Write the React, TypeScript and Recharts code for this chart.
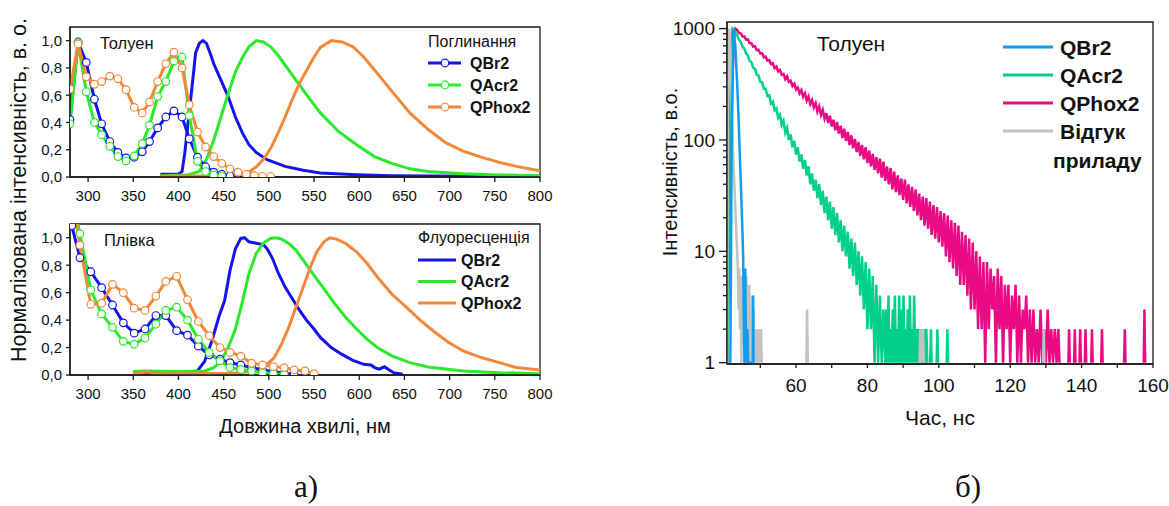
import React from 'react';
import { LineChart, Line, XAxis, YAxis, ReferenceArea } from 'recharts';

const FONT = "'Liberation Sans', Arial, Helvetica, sans-serif";
const BLUE = '#1414ee';
const GREEN = '#2aeb2a';
const ORANGE = '#f2883a';
const SKY = '#129cf0';
const TEAL = '#00d08a';
const PINK = '#ea0a84';
const GREY = '#c2c2c2';
const AXIS = '#1a1a1a';

// --- спектри, розчин у толуені ---
const absTolQBr2 = [[280, 0.42], [289, 0.99], [298, 0.84], [307, 0.57], [315, 0.39], [324, 0.26], [333, 0.18], [342, 0.14], [351, 0.145], [360, 0.185], [368, 0.26], [377, 0.36], [386, 0.44], [395, 0.485], [404, 0.44], [412, 0.28], [421, 0.145], [430, 0.075], [439, 0.035], [448, 0.02], [457, 0.008]];
const absTolQAcr2 = [[280, 0.39], [289, 0.985], [298, 0.625], [307, 0.4], [315, 0.31], [324, 0.225], [333, 0.15], [342, 0.118], [351, 0.155], [360, 0.245], [368, 0.38], [377, 0.59], [386, 0.7], [395, 0.85], [404, 0.88], [412, 0.45], [421, 0.115], [430, 0.04], [439, 0.015], [448, 0.005]];
const absTolQPhox2 = [[280, 0.645], [289, 0.975], [298, 0.735], [307, 0.68], [315, 0.7], [324, 0.74], [333, 0.72], [342, 0.64], [351, 0.51], [360, 0.47], [368, 0.55], [377, 0.7], [386, 0.83], [395, 0.915], [404, 0.8], [412, 0.53], [421, 0.33], [430, 0.22], [439, 0.15], [448, 0.1], [457, 0.06], [466, 0.035], [475, 0.02], [484, 0.01], [493, 0.005], [502, 0.005]];
const flTolQBr2 = [[380, 0.02], [400, 0.02], [404, 0.04], [407, 0.175], [411, 0.42], [415, 0.66], [419, 0.91], [423, 0.98], [427, 1.0], [431, 0.98], [435, 0.91], [439, 0.83], [447, 0.71], [455, 0.59], [463, 0.44], [471, 0.32], [478, 0.237], [486, 0.18], [498, 0.127], [518, 0.078], [538, 0.049], [557, 0.03], [597, 0.017], [636, 0.01], [676, 0.007], [800, 0.005]];
const flTolQAcr2 = [[380, 0.01], [410, 0.015], [423, 0.04], [431, 0.13], [439, 0.27], [447, 0.44], [455, 0.61], [463, 0.77], [471, 0.88], [478, 0.955], [486, 1.0], [494, 0.99], [502, 0.955], [510, 0.895], [518, 0.82], [530, 0.71], [542, 0.6], [557, 0.47], [577, 0.334], [597, 0.237], [617, 0.15], [636, 0.1], [656, 0.06], [676, 0.04], [715, 0.024], [755, 0.015], [800, 0.01]];
const flTolQPhox2 = [[380, 0.005], [460, 0.01], [470, 0.02], [479, 0.04], [487, 0.08], [494, 0.13], [502, 0.21], [510, 0.32], [518, 0.44], [526, 0.57], [534, 0.69], [542, 0.785], [550, 0.88], [557, 0.95], [569, 1.0], [581, 0.99], [593, 0.955], [605, 0.88], [620, 0.76], [636, 0.63], [656, 0.47], [676, 0.35], [696, 0.25], [715, 0.19], [735, 0.146], [755, 0.107], [774, 0.078], [800, 0.046]];

// --- спектри, плівка ---
const absFilmQBr2 = [[280, 1.12], [282, 1.087], [291, 0.854], [303, 0.752], [315, 0.636], [327, 0.51], [339, 0.38], [351, 0.305], [363, 0.335], [375, 0.433], [386, 0.433], [398, 0.323], [410, 0.29], [422, 0.21], [434, 0.147], [446, 0.115], [457, 0.09], [469, 0.073], [481, 0.054], [493, 0.037], [505, 0.024], [517, 0.012], [528, 0.005]];
const absFilmQAcr2 = [[287, 1.15], [291, 1.03], [303, 0.62], [315, 0.445], [327, 0.347], [339, 0.245], [351, 0.225], [363, 0.269], [375, 0.37], [386, 0.47], [398, 0.494], [410, 0.4], [422, 0.26], [434, 0.164], [446, 0.103], [457, 0.054], [469, 0.04], [481, 0.03], [493, 0.017], [505, 0.01], [517, 0.005]];
const absFilmQPhox2 = [[285, 1.2], [291, 0.946], [303, 0.515], [315, 0.523], [327, 0.66], [339, 0.6], [351, 0.487], [363, 0.47], [375, 0.575], [386, 0.682], [398, 0.719], [410, 0.548], [422, 0.39], [434, 0.286], [446, 0.2], [457, 0.164], [469, 0.137], [481, 0.086], [493, 0.073], [505, 0.061], [517, 0.054], [528, 0.037], [540, 0.03], [550, 0.01]];
const flFilmQBr2 = [[350, 0.02], [380, 0.02], [410, 0.02], [421, 0.03], [429, 0.1], [437, 0.25], [445, 0.43], [451, 0.54], [457, 0.76], [463, 0.92], [469, 0.995], [473, 1.0], [478, 0.97], [486, 0.96], [494, 0.95], [498, 0.92], [504, 0.85], [510, 0.75], [518, 0.64], [526, 0.555], [534, 0.47], [542, 0.396], [550, 0.335], [557, 0.274], [569, 0.2], [581, 0.15], [593, 0.107], [605, 0.078], [613, 0.073], [617, 0.054], [622, 0.042], [628, 0.06], [632, 0.042], [638, 0.017], [648, 0.005]];
const flFilmQAcr2 = [[350, 0.025], [365, 0.03], [400, 0.025], [429, 0.03], [439, 0.054], [447, 0.1], [455, 0.2], [463, 0.335], [471, 0.54], [478, 0.74], [486, 0.885], [494, 0.963], [502, 0.995], [508, 1.0], [514, 0.99], [522, 0.958], [530, 0.91], [538, 0.836], [550, 0.726], [561, 0.628], [573, 0.518], [585, 0.42], [597, 0.335], [609, 0.26], [620, 0.2], [636, 0.14], [656, 0.09], [676, 0.059], [715, 0.03], [755, 0.017], [800, 0.01]];
const flFilmQPhox2 = [[350, 0.01], [360, 0.015], [366, 0.025], [372, 0.01], [400, 0.01], [460, 0.012], [479, 0.025], [494, 0.054], [506, 0.127], [514, 0.225], [522, 0.347], [530, 0.494], [538, 0.64], [546, 0.787], [553, 0.897], [561, 0.97], [567, 1.0], [575, 0.99], [585, 0.958], [597, 0.897], [609, 0.81], [620, 0.714], [636, 0.59], [652, 0.494], [668, 0.396], [684, 0.31], [699, 0.237], [715, 0.176], [735, 0.127], [755, 0.09], [774, 0.054], [800, 0.037]];

// --- кінетика загасання (толуен), null = 0 відліків ---
const decayQBr2 = [[41.6, 1], [42.0, 100], [42.5, 1000], [43.0, 700], [43.5, 330], [43.9, 160], [44.4, 55], [44.9, 19], [45.2, 9], [45.4, 2], [45.6, 1], [45.8, 7], [46.0, 1], [46.4, 2], [46.6, 1], [47.9, 1], [48.0, 4], [48.1, 1], [48.3, null]];
const decayQAcr2 = [[40.8, 1], [41.3, 60], [41.8, 500], [42.2, 1000], [42.5, 985], [43, 925], [43.5, 875], [44, 800], [44.5, 760], [45, 690], [45.5, 665], [46, 598], [46.5, 575], [47, 515], [47.5, 500], [48, 445], [48.5, 435], [49, 385], [49.5, 380], [50, 332], [50.5, 330], [51, 288], [51.5, 288], [52, 248], [52.5, 252], [53, 212], [53.5, 220], [54, 185], [54.5, 192], [55, 158], [55.5, 168], [56, 136], [56.5, 148], [57, 116], [57.5, 128], [58, 100], [58.5, 112], [59, 86], [59.5, 98], [60, 74], [60.5, 86], [61, 64], [61.5, 74], [62, 55], [62.5, 66], [63, 48], [63.5, 58], [64, 40], [64.5, 50], [65, 35], [65.5, 44], [66, 30], [66.5, 40], [67, 26], [67.5, 35], [68, 22], [68.5, 31], [69, 19], [69.5, 28], [70, 16], [70.5, 25], [71, 14], [71.5, 22], [72, 12], [72.5, 19], [73, 10], [73.5, 17], [74, 9], [74.5, 15], [75, 7], [75.5, 13], [76, 6], [76.5, 12], [77, 5], [77.5, 10], [78, 4], [78.5, 9], [79, 3], [79.5, 8], [80, 2], [80.5, 7], [81, 2], [81.5, 6], [82, 1], [82.5, 5], [83, 1], [83.5, 4], [84, 1], [84.5, 3], [85, 1], [85.3, 3], [85.6, 1], [85.9, 4], [86.2, 1], [86.5, 2], [86.8, 1], [87.1, 3], [87.4, 1], [87.7, 4], [88, 1], [88.3, 2], [88.6, 1], [88.9, 4], [89.2, 1], [89.5, 3], [89.8, 1], [90.1, 4], [90.4, 1], [90.7, 2], [91, 1], [91.3, 3], [91.6, 1], [91.9, 4], [92.2, 1], [92.5, 2], [92.8, 1], [93.1, 4], [93.4, 1], [93.7, 2], [94, 1], [94.3, 2], [94.6, 1], [95, 2], [95.3, 1], [95.8, 2], [96.1, 1], [96.5, 2], [96.8, 1], [97.1, null], [97.6, 1], [97.8, 2], [98, 1], [98.2, null], [99.4, 1], [99.6, 2], [99.8, 1], [100, null], [102.2, 1], [102.4, 2], [102.6, 1], [102.8, null]];
const decayQPhox2 = [[40.8, 1], [41.4, 20], [42.0, 250], [42.6, 800], [43, 1000], [43.5, 975], [44, 915], [44.5, 905], [45, 850], [45.5, 852], [46, 795], [46.5, 800], [47, 742], [47.5, 738], [48, 690], [48.5, 694], [49, 640], [49.5, 645], [50, 598], [50.5, 600], [51, 552], [51.5, 560], [52, 515], [52.5, 522], [53, 480], [53.5, 488], [54, 442], [54.5, 456], [55, 412], [55.5, 424], [56, 385], [56.5, 392], [57, 352], [57.5, 372], [58, 332], [58.5, 340], [59, 305], [59.5, 320], [60, 284], [60.5, 296], [61, 262], [61.5, 280], [62, 244], [62.5, 262], [63, 226], [63.5, 246], [64, 210], [64.5, 228], [65, 196], [65.5, 214], [66, 180], [66.5, 200], [67, 168], [67.5, 186], [68, 155], [68.5, 174], [69, 142], [69.5, 165], [70, 132], [70.5, 152], [71, 122], [71.5, 145], [72, 114], [72.5, 134], [73, 104], [73.5, 126], [74, 98], [74.5, 118], [75, 90], [75.5, 110], [76, 84], [76.5, 102], [77, 78], [77.5, 96], [78, 72], [78.5, 90], [79, 67], [79.5, 86], [80, 62], [80.5, 80], [81, 58], [81.5, 75], [82, 54], [82.5, 70], [83, 50], [83.5, 68], [84, 46], [84.5, 64], [85, 43], [85.5, 58], [86, 40], [86.5, 56], [87, 36], [87.5, 52], [88, 34], [88.5, 48], [89, 32], [89.5, 45], [90, 29], [90.5, 44], [91, 27], [91.5, 40], [92, 25], [92.5, 38], [93, 23], [93.5, 36], [94, 21], [94.5, 33], [95, 19], [95.5, 31], [96, 17], [96.5, 30], [97, 16], [97.5, 28], [98, 14], [98.5, 26], [99, 13], [99.5, 25], [100, 12], [100.5, 23], [101, 11], [101.5, 22], [102, 9], [102.5, 21], [103, 8], [103.5, 19], [104, 7], [104.5, 18], [105, 6], [105.5, 17], [106, 5], [106.5, 15], [107, 5], [107.5, 14], [108, 4], [108.5, 13], [109, 3], [109.5, 12], [110, 3], [110.5, 10], [111, 2], [111.5, 9], [112, 2], [112.5, 8], [113, 1], [113.5, 8], [114, 2], [114.5, 7], [115, 3], [115.5, 6], [116, 1], [116.5, 7], [117, 2], [117.5, 6], [118, 1], [118.5, 5], [119, 2], [119.5, 5], [120, 1], [120.5, 4], [121, 2], [121.5, 5], [122, 1], [122.5, 4], [123, 1], [123.5, 3], [124, 2], [124.5, 4], [125, 1], [125.5, 3], [126, 1], [126.5, 3], [127, 1], [127.5, 2], [128, 1], [128.5, 3], [129, 1], [129.5, 2], [130, 1], [130.5, 3], [131, 1], [131.5, 2], [132, 1], [132.5, 2], [133, 1], [133.5, 2], [133.8, 1], [134, null], [136.3, 1], [136.5, 2], [136.7, 1], [136.9, null], [137.9, 1], [138.1, 2], [138.3, 1], [138.5, null], [139.4, 1], [139.6, 2], [139.8, 1], [140, null], [140.9, 1], [141.1, 2], [141.3, 1], [141.5, null], [142.7, 1], [142.9, 2], [143.1, 1], [143.3, null], [145.5, 1], [145.7, 2], [145.9, 1], [146.1, null], [151.9, 1], [152.1, 2], [152.3, 1], [152.5, null], [157.4, 1], [157.6, 3], [157.8, 1], [158, null]];
const decayIRF = [[40.7, 1], [40.9, 200], [41.3, 1000], [41.7, 600], [42.1, 150], [42.5, 60], [43.0, 25], [43.4, 12], [43.7, 7], [43.9, 3], [44.1, 7], [44.3, 2], [44.5, 6], [44.7, 1], [44.9, 6], [45.1, 2], [45.3, 7], [45.5, 1], [45.7, 5], [45.9, 2], [46.1, 6], [46.3, 1], [46.5, 4], [46.7, 2], [46.9, 5], [47.1, 1], [47.3, 3], [47.5, 1], [47.7, 4], [47.9, 1], [48.1, 3], [48.3, 1], [48.5, 2], [48.7, 1], [48.9, 2], [49.1, 1], [49.5, 2], [49.7, 1], [50.2, 2], [50.4, 1], [50.6, null], [62.9, 1], [63.1, 3], [63.3, 1], [63.5, null], [94.6, 1], [94.8, 2], [95.0, 1], [95.6, 2], [95.8, 1], [96, null], [129.2, 1], [129.4, 2], [129.6, 1], [129.8, null]];

const WL_TICKS = [300, 350, 400, 450, 500, 550, 600, 650, 700, 750, 800];
const NORM_TICKS = [0, 0.2, 0.4, 0.6, 0.8, 1.0];
const TIME_TICKS = [50, 60, 70, 80, 90, 100, 110, 120, 130, 140, 150, 160];
const COUNT_TICKS = [1, 2, 3, 4, 5, 6, 7, 8, 9, 10, 20, 30, 40, 50, 60, 70, 80, 90, 100, 200, 300, 400, 500, 600, 700, 800, 900, 1000];
const COUNT_MAJOR = [1, 10, 100, 1000];

const pts = (a: (number | null)[][]) => a.map(([x, y]) => ({ x, y }));

const commaFmt = (v: number) => v.toFixed(1).replace('.', ',');

function CountTick(props: any) {
  const { x, y, payload } = props;
  const major = COUNT_MAJOR.includes(payload.value);
  return (
    <g>
      <line x1={x - (major ? 8 : 4)} x2={x} y1={y} y2={y} stroke={AXIS} strokeWidth={1.3} />
      {major && (
        <text x={x - 12} y={y} dy="0.35em" textAnchor="end" fontSize={19} fontFamily={FONT} fill="#111">
          {payload.value}
        </text>
      )}
    </g>
  );
}

function TimeTick(props: any) {
  const { x, y, payload } = props;
  const major = payload.value % 20 === 0;
  return (
    <g>
      <line x1={x} x2={x} y1={y} y2={y + 4} stroke={AXIS} strokeWidth={1.3} />
      {major && (
        <text x={x} y={y + 15} dy="0.71em" textAnchor="middle" fontSize={19} fontFamily={FONT} fill="#111">
          {payload.value}
        </text>
      )}
    </g>
  );
}

const absDot = (c: string) => ({ r: 3.8, fill: '#fff', stroke: c, strokeWidth: 1.2 });

function SpectraPanel({ abs, fl, height, top, xAxisH }: any) {
  return (
    <LineChart width={560} height={height} margin={{ top, right: 20, left: 0, bottom: 0 }}>
      <XAxis dataKey="x" type="number" domain={[280, 800]} ticks={WL_TICKS} interval={0} allowDataOverflow
        height={xAxisH} tickSize={5} tickMargin={8} stroke={AXIS} strokeWidth={1.3}
        tick={{ fontSize: 15, fill: '#111', fontFamily: FONT }} />
      <YAxis dataKey="y" type="number" domain={[0, 1.1]} ticks={NORM_TICKS} interval={0} allowDataOverflow
        width={70} tickSize={4} tickMargin={4} stroke={AXIS} strokeWidth={1.3} tickFormatter={commaFmt}
        tick={{ fontSize: 15, fill: '#111', fontFamily: FONT }} />
      <ReferenceArea x1={280} x2={800} y1={0} y2={1.1} fill="none" stroke={AXIS} strokeWidth={1.3} ifOverflow="visible" />
      {fl.map((s: any, i: number) => (
        <Line key={'f' + i} data={pts(s.d)} dataKey="y" stroke={s.c} strokeWidth={3} dot={false} isAnimationActive={false} />
      ))}
      {abs.map((s: any, i: number) => (
        <Line key={'a' + i} data={pts(s.d)} dataKey="y" stroke={s.c} strokeWidth={3} dot={absDot(s.c)} isAnimationActive={false} />
      ))}
    </LineChart>
  );
}

export default function App() {
  const txt = { fontFamily: FONT, fill: '#111' };
  return (
    <div style={{ position: 'absolute', left: 0, top: 0, width: 1169, height: 506, background: '#fff', overflow: 'hidden' }}>
      <div style={{ position: 'absolute', left: 0, top: 0 }}>
        <SpectraPanel height={210} top={27} xAxisH={33}
          abs={[{ d: absTolQBr2, c: BLUE }, { d: absTolQAcr2, c: GREEN }, { d: absTolQPhox2, c: ORANGE }]}
          fl={[{ d: flTolQBr2, c: BLUE }, { d: flTolQAcr2, c: GREEN }, { d: flTolQPhox2, c: ORANGE }]} />
      </div>
      <div style={{ position: 'absolute', left: 0, top: 200 }}>
        <SpectraPanel height={215} top={24} xAxisH={40}
          abs={[{ d: absFilmQBr2, c: BLUE }, { d: absFilmQAcr2, c: GREEN }, { d: absFilmQPhox2, c: ORANGE }]}
          fl={[{ d: flFilmQBr2, c: BLUE }, { d: flFilmQAcr2, c: GREEN }, { d: flFilmQPhox2, c: ORANGE }]} />
      </div>
      <div style={{ position: 'absolute', left: 650, top: 0 }}>
        <LineChart width={519} height={400} margin={{ top: 22, right: 16, left: 0, bottom: 0 }}>
          <XAxis dataKey="x" type="number" domain={[40.67, 160]} ticks={TIME_TICKS} interval={0} allowDataOverflow
            height={36} tickSize={0} tickMargin={0} tickLine={false} stroke={AXIS} strokeWidth={1.3} tick={<TimeTick />} />
          <YAxis dataKey="y" type="number" scale="log" domain={[0.973, 1146]} ticks={COUNT_TICKS} interval={0} allowDataOverflow
            width={77} tickSize={0} tickMargin={0} tickLine={false} stroke={AXIS} strokeWidth={1.3} tick={<CountTick />} />
          <ReferenceArea x1={40.67} x2={160} y1={0.973} y2={1146} fill="none" stroke={AXIS} strokeWidth={1.3} ifOverflow="visible" />
          <Line data={pts(decayQPhox2)} dataKey="y" stroke={PINK} strokeWidth={2.5} dot={false} isAnimationActive={false} />
          <Line data={pts(decayQAcr2)} dataKey="y" stroke={TEAL} strokeWidth={2.5} dot={false} isAnimationActive={false} />
          <Line data={pts(decayIRF)} dataKey="y" stroke={GREY} strokeWidth={2.5} dot={false} isAnimationActive={false} />
          <Line data={pts(decayQBr2)} dataKey="y" stroke={SKY} strokeWidth={2.5} dot={false} isAnimationActive={false} />
        </LineChart>
      </div>

      <svg width={1169} height={506} style={{ position: 'absolute', left: 0, top: 0, pointerEvents: 'none' }}>
        <text transform="translate(19,190) rotate(-90)" textAnchor="middle" dominantBaseline="central" fontSize={21.5} {...txt}>
          Нормалізована інтенсивність, в. о.
        </text>
        <text x={305} y={426} textAnchor="middle" dominantBaseline="central" fontSize={20} {...txt}>Довжина хвилі, нм</text>

        <text x={100} y={43} dominantBaseline="central" fontSize={16.5} {...txt}>Толуен</text>
        <text x={428} y={41} dominantBaseline="central" fontSize={16} {...txt}>Поглинання</text>
        {[{ n: 'QBr2', c: BLUE }, { n: 'QAcr2', c: GREEN }, { n: 'QPhox2', c: ORANGE }].map((s, i) => (
          <g key={s.n}>
            <line x1={428} x2={461} y1={63 + i * 22} y2={63 + i * 22} stroke={s.c} strokeWidth={3} />
            <circle cx={445} cy={63 + i * 22} r={3.8} fill="#fff" stroke={s.c} strokeWidth={1.2} />
            <text x={470} y={63 + i * 22} dominantBaseline="central" fontSize={16} fontWeight="bold" {...txt}>{s.n}</text>
          </g>
        ))}

        <text x={104} y={240} dominantBaseline="central" fontSize={16.5} {...txt}>Плівка</text>
        <text x={418} y={237} dominantBaseline="central" fontSize={16} {...txt}>Флуоресценція</text>
        {[{ n: 'QBr2', c: BLUE }, { n: 'QAcr2', c: GREEN }, { n: 'QPhox2', c: ORANGE }].map((s, i) => (
          <g key={'fl' + s.n}>
            <line x1={418} x2={456} y1={260 + i * 21.5} y2={260 + i * 21.5} stroke={s.c} strokeWidth={3} />
            <text x={461} y={260 + i * 21.5} dominantBaseline="central" fontSize={16} fontWeight="bold" {...txt}>{s.n}</text>
          </g>
        ))}

        <text x={817} y={43} dominantBaseline="central" fontSize={21} {...txt}>Толуен</text>
        {[{ n: 'QBr2', c: SKY }, { n: 'QAcr2', c: TEAL }, { n: 'QPhox2', c: PINK }, { n: 'Відгук', c: GREY }].map((s, i) => (
          <g key={'d' + s.n}>
            <line x1={1003} x2={1053} y1={47 + i * 28} y2={47 + i * 28} stroke={s.c} strokeWidth={3} />
            <text x={1060} y={47 + i * 28} dominantBaseline="central" fontSize={21} fontWeight="bold" {...txt}>{s.n}</text>
          </g>
        ))}
        <text x={1053} y={160} dominantBaseline="central" fontSize={21} fontWeight="bold" {...txt}>приладу</text>
        <text x={940} y={417} textAnchor="middle" dominantBaseline="central" fontSize={21} {...txt}>Час, нс</text>
        <text transform="translate(670,172) rotate(-90)" textAnchor="middle" dominantBaseline="central" fontSize={20} {...txt}>
          Інтенсивність, в.о.
        </text>

        <text x={306} y={497} textAnchor="middle" fontSize={31} fontFamily="'Liberation Serif', 'Times New Roman', serif" fill="#111">а)</text>
        <text x={968} y={497} textAnchor="middle" fontSize={31} fontFamily="'Liberation Serif', 'Times New Roman', serif" fill="#111">б)</text>
      </svg>
    </div>
  );
}
